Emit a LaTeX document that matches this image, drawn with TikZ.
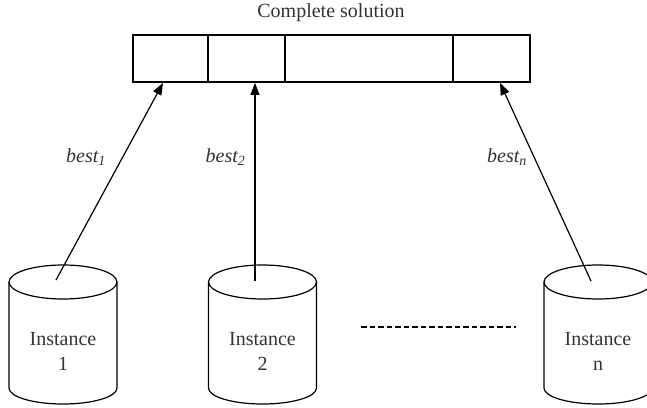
\documentclass[tikz,border=0pt]{standalone}
\usepackage{fontspec}
\setmainfont{Liberation Serif}
\usetikzlibrary{arrows.meta}
\definecolor{txt}{gray}{0.2}
\newcommand\drumshape[1]{%
  \draw[cyl] (#1-54,282) -- (#1-54,388) arc[start angle=180,end angle=0,x radius=54,y radius=16] -- (#1+54,282);
  \draw[cyl] (#1,282) ellipse[x radius=54,y radius=17];
}
\begin{document}
\begin{tikzpicture}[x=1pt,y=-1pt,
  cell/.style={draw,line width=1.8pt,minimum height=47pt,inner sep=0pt},
  cyl/.style={draw,line width=1.2pt},
  inst/.style={align=center,text=txt,font=\fontsize{20}{25}\selectfont},
  lbl/.style={text=txt,font=\fontsize{20}{24}\selectfont\itshape},
  arr/.style={line width=1.2pt,-{Triangle[length=12pt,width=9pt]}},
  dashline/.style={line width=1.2pt,dash pattern=on 5.5pt off 3pt}]
\useasboundingbox (0,0) rectangle (647,407);
\clip (0,0) rectangle (647,407);
\node[text=txt,font=\fontsize{20}{24}\selectfont] (title) at (331,13) {Complete solution};
\node[cell,minimum width=75pt] (b1) at (170.5,58.5) {};
\node[cell,minimum width=77pt] (b2) at (246.5,58.5) {};
\node[cell,minimum width=168pt] (b3) at (369,58.5) {};
\node[cell,minimum width=77pt] (bn) at (491.5,58.5) {};
\drumshape{63}
\drumshape{262.5}
\drumshape{598}
\node[inst] (i1) at (63,351) {Instance\\1};
\node[inst] (i2) at (262.5,351) {Instance\\2};
\node[inst] (in) at (598,351) {Instance\\n};
\coordinate (s1) at (56,280);
\coordinate (s2) at (255,281);
\coordinate (sn) at (591,281);
\draw[arr] (s1) -- ([xshift=-7.5pt]b1.south);
\draw[arr] (s2) -- ([xshift=8.5pt]b2.south);
\draw[arr] (sn) -- ([xshift=8.5pt]bn.south);
\node[lbl] (l1) at (86,157) {best\textsubscript{1}};
\node[lbl] (l2) at (225.5,157) {best\textsubscript{2}};
\node[lbl] (ln) at (507,157) {best\textsubscript{n}};
\coordinate (d1) at (361,327);
\coordinate (d2) at (516,327);
\draw[dashline] (d1) -- (d2);
\end{tikzpicture}
\end{document}
